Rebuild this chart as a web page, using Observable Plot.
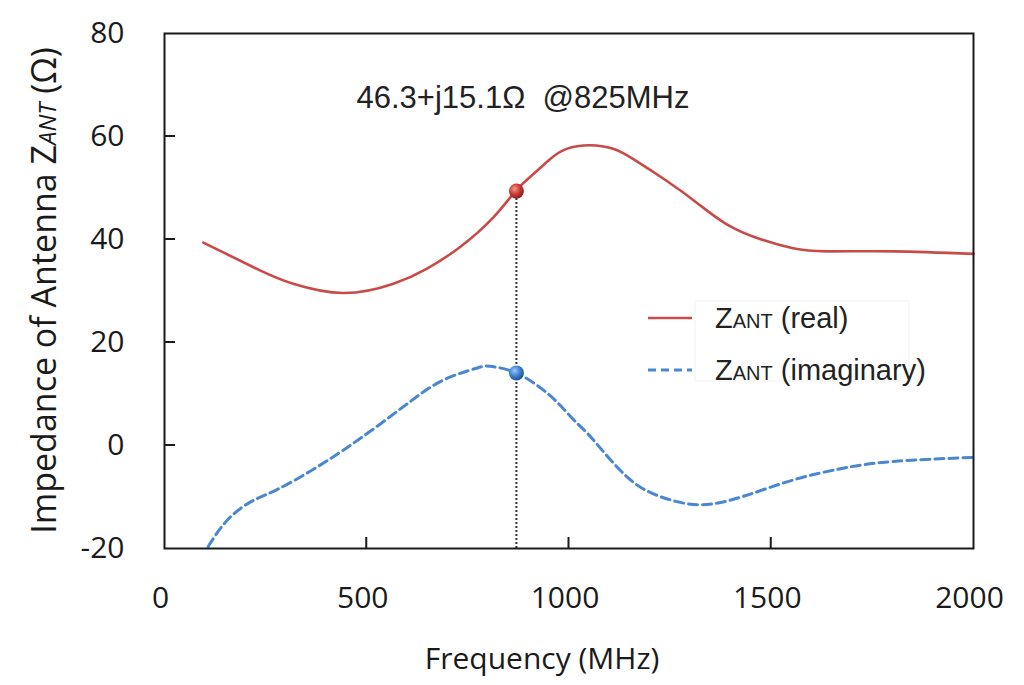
<!DOCTYPE html>
<html>
<head>
<meta charset="utf-8">
<script src="https://cdn.jsdelivr.net/npm/d3@7"></script>
<script src="https://cdn.jsdelivr.net/npm/@observablehq/plot@0.6"></script>
<style>
  html, body { margin: 0; padding: 0; background: #fff; }
</style>
</head>
<body>
<div id="chart"></div>
<script>
// ---- data ----
const freqReal = [96, 236, 318, 442, 566, 648, 730, 813, 868, 912, 953, 994, 1052, 1109, 1159, 1241, 1315, 1389, 1472, 1554, 1637, 1801, 2000];
const zReal    = [39.4, 34.0, 31.4, 29.6, 31.4, 34.3, 38.5, 44.3, 49.4, 52.7, 55.6, 57.6, 58.3, 57.6, 55.6, 51.4, 47.2, 43.0, 40.1, 38.3, 37.7, 37.7, 37.2];

const freqImag = [108, 154, 212, 277, 360, 442, 525, 607, 689, 771, 804, 869, 936, 977, 1019, 1060, 1142, 1225, 1323, 1430, 1554, 1678, 1801, 2000];
const zImag    = [-19.6, -14.6, -11.0, -8.6, -5.0, -0.9, 3.7, 8.5, 12.7, 15.0, 15.4, 14.1, 10.8, 7.9, 4.4, 1.1, -6.0, -9.9, -11.5, -9.9, -6.7, -4.4, -3.1, -2.3];

const markerFreq = [870];
const markerReal = [49.4];
const markerImag = [14.1];

const xTicks = [0, 500, 1000, 1500, 2000];
const yTicks = [-20, 0, 20, 40, 60, 80];

const annotation = "46.3+j15.1\u03A9  @825MHz";
const xTitle = "Frequency (MHz)";

// ---- tables ----
const realData = freqReal.map((f, i) => ({f, z: zReal[i]}));
const imagData = freqImag.map((f, i) => ({f, z: zImag[i]}));
const markers = markerFreq.map((f, i) => ({f, re: markerReal[i], im: markerImag[i]}));

const W = 1024, H = 685;
const mL = 164, mR = 51, mT = 33, mB = 137;
const innerW = W - mL - mR, innerH = H - mT - mB;

const RED = "#c84b48";
const BLUE = "#4a87d2";
const tickFont = "'Open Sans', sans-serif";

const chart = Plot.plot({
  width: W,
  height: H,
  marginLeft: mL,
  marginRight: mR,
  marginTop: mT,
  marginBottom: mB,
  style: {fontFamily: tickFont, fontSize: "30px", color: "#1a1a1a", background: "#fff", overflow: "visible"},
  x: {domain: [0, 2000]},
  y: {domain: [-20, 80]},
  marks: [
    Plot.axisX(xTicks, {tickSize: 0, tickPadding: 38, fontSize: 30, label: null, tickFormat: d => String(d), dx: -4}),
    Plot.axisY(yTicks, {tickSize: 0, tickPadding: 40, fontSize: 30, label: null, tickFormat: d => String(d)}),
    // dotted guide
    Plot.ruleX(markers, {x: "f", y1: -20, y2: "re", stroke: "#333", strokeWidth: 2, strokeDasharray: "2,2"}),
    Plot.line(realData, {x: "f", y: "z", stroke: RED, strokeWidth: 2.6, curve: "natural"}),
    Plot.line(imagData, {x: "f", y: "z", stroke: BLUE, strokeWidth: 3, strokeDasharray: "9,5", curve: "natural"}),
    Plot.dot(markers, {x: "f", y: "re", r: 7.5, fill: "url(#gRed)", stroke: "none"}),
    Plot.dot(markers, {x: "f", y: "im", r: 7.5, fill: "url(#gBlue)", stroke: "none"}),
    Plot.text([annotation], {text: d => d, frameAnchor: "top", dx: -46, dy: 74, lineAnchor: "bottom", fontSize: 31, fontFamily: "'Liberation Sans', Arial, sans-serif", fill: "#222"}),
    Plot.frame({stroke: "#1a1a1a", strokeWidth: 2}),
    Plot.text([xTitle], {text: d => d, frameAnchor: "bottom", dx: -27, dy: 120, lineAnchor: "bottom", fontSize: 30, fontFamily: tickFont, fill: "#1a1a1a"})
  ]
});

document.getElementById("chart").appendChild(chart);

const svg = d3.select(chart);
const sx = chart.scale("x"), sy = chart.scale("y");

// ---- inward tick marks, positioned with Plot's own scales ----
const tk = svg.append("g");
const x0 = sx.apply(sx.domain[0]), y0 = sy.apply(sy.domain[0]);
yTicks.slice(1, -1).forEach(v => {
  tk.append("path").attr("d", `M${x0},${sy.apply(v)}h11`)
    .attr("stroke", "#1a1a1a").attr("stroke-width", 2).attr("fill", "none");
});
xTicks.slice(1, -1).forEach(v => {
  tk.append("path").attr("d", `M${sx.apply(v)},${y0}v-11`)
    .attr("stroke", "#1a1a1a").attr("stroke-width", 2).attr("fill", "none");
});

// ---- gradients for the spherical markers ----
const defs = svg.insert("defs", ":first-child");
function grad(id, c0, c1, c2) {
  const g = defs.append("radialGradient").attr("id", id).attr("cx", "38%").attr("cy", "35%").attr("r", "65%");
  g.append("stop").attr("offset", "0%").attr("stop-color", c0);
  g.append("stop").attr("offset", "55%").attr("stop-color", c1);
  g.append("stop").attr("offset", "100%").attr("stop-color", c2);
}
grad("gRed", "#f39a90", "#cc3b36", "#8f1f1b");
grad("gBlue", "#9cc8f2", "#3f84d6", "#1f5396");

// ---- y-axis title with small italic caps ----
const yt = svg.append("text")
  .attr("transform", `translate(56,${mT + innerH / 2}) rotate(-90)`)
  .attr("text-anchor", "middle")
  .attr("font-family", tickFont)
  .attr("font-size", 34)
  .attr("fill", "#1a1a1a");
yt.append("tspan").text("Impedance of Antenna Z");
yt.append("tspan").attr("font-size", 24).attr("font-style", "italic").text("ANT");
yt.append("tspan").text(" (\u03A9)");

// ---- legend ----
const lg = svg.append("g").attr("font-family", "'Liberation Sans', Arial, sans-serif").attr("fill", "#222").attr("text-anchor", "start");
lg.append("rect").attr("x", 695).attr("y", 301).attr("width", 214).attr("height", 80)
  .attr("fill", "#fff").attr("stroke", "#f2f2f2").attr("stroke-width", 1);
const items = [
  {label: " (real)", color: RED, dash: null, width: 2.6, y: 318},
  {label: " (imaginary)", color: BLUE, dash: "8,5", width: 3, y: 370}
];
items.forEach(it => {
  lg.append("line").attr("x1", 648).attr("x2", 692).attr("y1", it.y).attr("y2", it.y)
    .attr("stroke", it.color).attr("stroke-width", it.width).attr("stroke-dasharray", it.dash);
  const t = lg.append("text").attr("x", 715).attr("y", it.y + 10).attr("font-size", 29).attr("text-anchor", "start");
  t.append("tspan").text("Z");
  t.append("tspan").attr("font-size", 20).text("ANT");
  t.append("tspan").text(it.label);
});
</script>
</body>
</html>
